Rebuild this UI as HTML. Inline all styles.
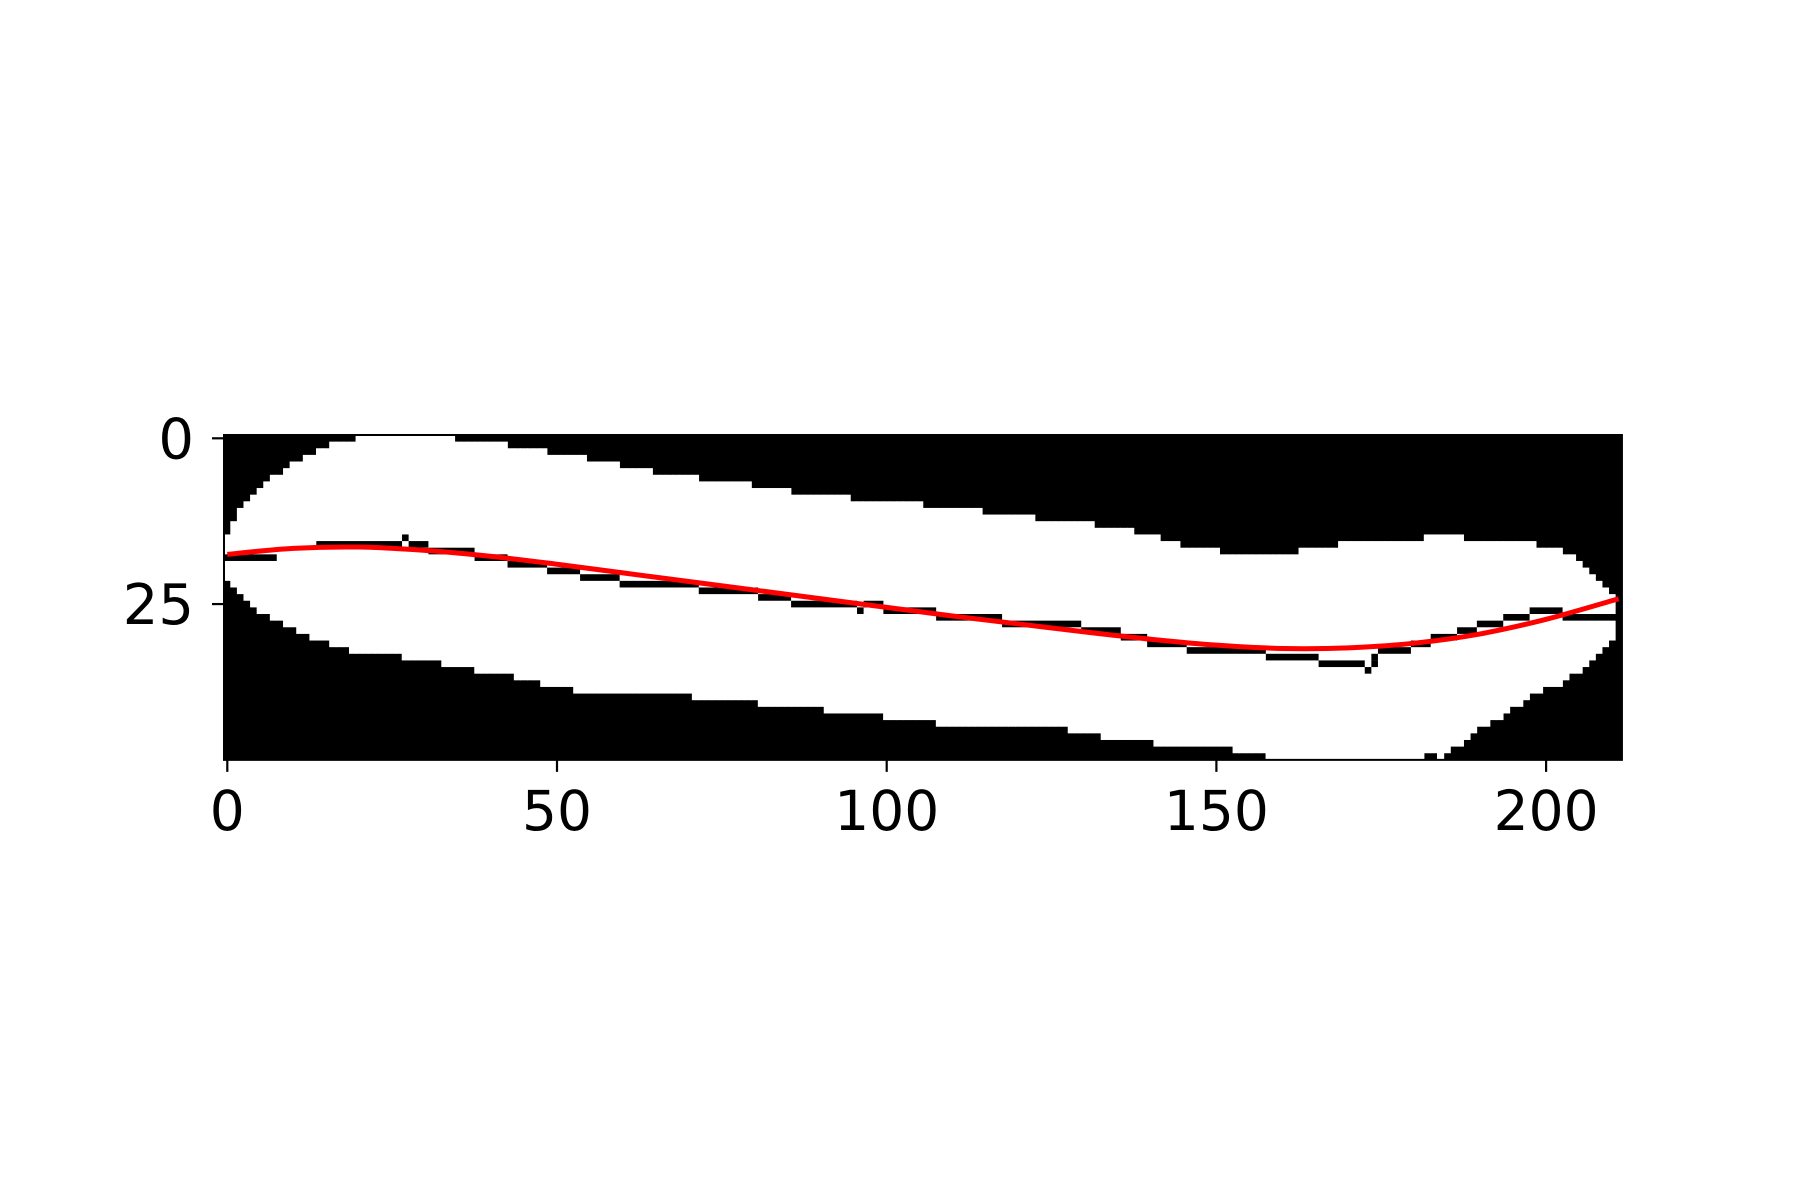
<!DOCTYPE html>
<html><head><meta charset="utf-8">
<style>
html,body{margin:0;padding:0;background:#fff;}
svg{display:block;}
text{font-family:"DejaVu Sans","Liberation Sans",sans-serif;fill:#000;}
</style></head>
<body>
<svg id="chart" width="1800" height="1200" viewBox="0 0 1800 1200" xmlns="http://www.w3.org/2000/svg">
<rect x="0" y="0" width="1800" height="1200" fill="#fff"/>
<g id="plot"></g>
<g id="axes"></g>
</svg>
<script>
// image data: step boundaries [startColumn, row]
const nCols = 212;
const nRows = 49;
const topSteps = [[0,15],[1,13],[2,11],[3,10],[4,9],[5,8],[6,7],[7,6],[9,5],[10,4],[12,3],[14,2],[16,1],[20,0],[35,1],[43,2],[49,3],[55,4],[60,5],[65,6],[72,7],[80,8],[86,9],[95,10],[106,11],[115,12],[123,13],[132,14],[138,15],[142,16],[145,17],[151,18],[163,17],[169,16],[182,15],[188,16],[199,17],[203,18],[205,19],[206,20],[207,21],[208,22],[209,23],[210,24],[211,49]];
const bottomSteps = [[0,22],[1,23],[2,24],[3,25],[4,26],[5,27],[7,28],[9,29],[11,30],[13,31],[16,32],[19,33],[27,34],[33,35],[38,36],[44,37],[48,38],[53,39],[71,40],[81,41],[91,42],[100,43],[108,44],[128,45],[133,46],[141,47],[153,48],[158,49],[182,48],[184,49],[185,48],[186,47],[188,46],[189,45],[190,44],[192,43],[194,42],[195,41],[197,40],[198,39],[200,38],[203,37],[204,36],[206,35],[207,34],[208,33],[209,32],[210,31],[211,0]];
// black line segments [colStart, colEnd, row]
const lineSegs = [[0,8,18],[14,27,16],[27,28,15],[28,31,16],[31,38,17],[38,43,18],[43,49,19],[49,54,20],[54,60,21],[60,72,22],[72,81,23],[81,86,24],[86,96,25],[96,97,26],[97,100,25],[100,108,26],[108,118,27],[118,130,28],[130,136,29],[136,140,30],[140,146,31],[146,158,32],[158,166,33],[166,173,34],[173,174,35],[174,175,33],[174,175,34],[175,180,32],[180,183,31],[183,187,30],[187,190,29],[190,194,28],[194,198,27],[198,203,26],[203,212,27]];
// fitted curve
const curveX = [0,10,20,30,40,50,60,70,80,90,100,110,120,130,140,150,160,170,180,190,200,211];
const curveY = [17.5,16.6,16.4,16.9,17.8,19.0,20.3,21.6,22.9,24.2,25.5,26.8,28.0,29.2,30.3,31.2,31.7,31.6,30.9,29.5,27.3,24.2];
const xTicks = [0,50,100,150,200];
const yTicks = [0,25];

const L=224, T=435, CW=6.594, CH=6.63;
const NS="http://www.w3.org/2000/svg";
function px(x){return L+(x+0.5)*CW;}
function py(y){return T+(y+0.5)*CH;}
function mk(tag,attrs,parent){const e=document.createElementNS(NS,tag);for(const k in attrs)e.setAttribute(k,attrs[k]);parent.appendChild(e);return e;}
function stepVal(steps,c){let v=steps[0][1];for(const s of steps){if(c>=s[0])v=s[1];}return v;}

const plot=document.getElementById('plot');
const axes=document.getElementById('axes');
const W=nCols*CW, H=nRows*CH;
const bg=mk('rect',{x:L,y:T,width:W,height:H,fill:'#000'},plot);


for(let c=0;c<nCols;c++){
  const t=stepVal(topSteps,c), b=stepVal(bottomSteps,c);
  if(b>t){
    const r=mk('rect',{x:L+c*CW-0.3,y:T+t*CH,width:CW+0.6,height:(b-t)*CH,fill:'#fff'},plot);
    
    
  }
}
for(const s of lineSegs){
  const r=mk('rect',{x:L+s[0]*CW,y:T+s[2]*CH,width:(s[1]-s[0])*CW,height:CH,fill:'#000'},plot);
  
  
}
let d='M'+px(curveX[0])+','+py(curveY[0]);
for(let i=0;i<curveX.length-1;i++){
  const p0=[px(curveX[Math.max(i-1,0)]),py(curveY[Math.max(i-1,0)])];
  const p1=[px(curveX[i]),py(curveY[i])];
  const p2=[px(curveX[i+1]),py(curveY[i+1])];
  const p3=[px(curveX[Math.min(i+2,curveX.length-1)]),py(curveY[Math.min(i+2,curveX.length-1)])];
  const c1=[p1[0]+(p2[0]-p0[0])/6,p1[1]+(p2[1]-p0[1])/6];
  const c2=[p2[0]-(p3[0]-p1[0])/6,p2[1]-(p3[1]-p1[1])/6];
  d+=' C'+c1[0]+','+c1[1]+' '+c2[0]+','+c2[1]+' '+p2[0]+','+p2[1];
}
const curve=mk('path',{d:d,fill:'none',stroke:'#ff0000','stroke-width':5,'stroke-linecap':'butt'},plot);



const frame=mk('rect',{x:L,y:T,width:W,height:H,fill:'none',stroke:'#000','stroke-width':2},axes);


for(const v of xTicks){
  const x=px(v);
  const tk=mk('line',{x1:x,y1:T+H,x2:x,y2:T+H+12,stroke:'#000','stroke-width':2.2},axes);
  
  
  const tx=mk('text',{x:x,y:T+H+70,'text-anchor':'middle','font-size':'55'},axes);
  tx.textContent=String(v);
  
  
}
for(const v of yTicks){
  const y=py(v);
  const tk=mk('line',{x1:L-12,y1:y,x2:L,y2:y,stroke:'#000','stroke-width':2.2},axes);
  
  
  const tx=mk('text',{x:L-30,y:y+20,'text-anchor':'end','font-size':'56'},axes);
  tx.textContent=String(v);
  
  
}
</script>
</body></html>
